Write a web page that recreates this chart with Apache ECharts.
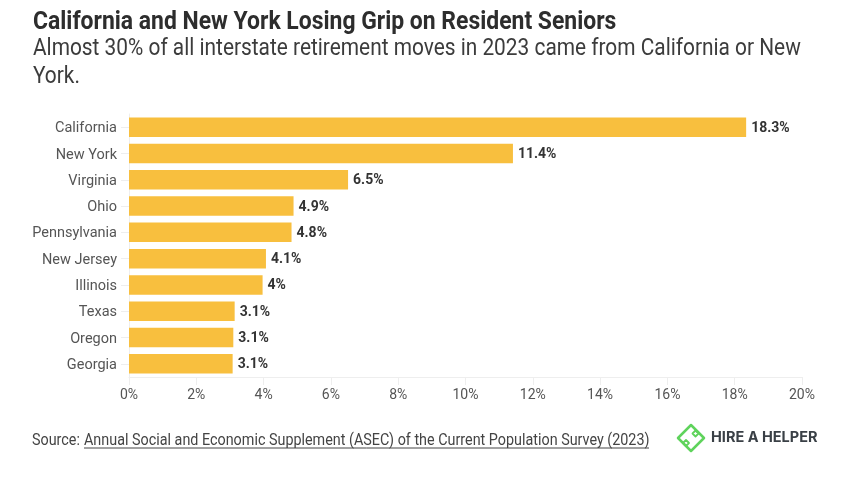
<!DOCTYPE html>
<html><head><meta charset="utf-8">
<style>html,body{margin:0;padding:0;background:#fff}#c{width:848px;height:477px}</style>
<script src="https://cdn.jsdelivr.net/npm/echarts@6/dist/echarts.min.js"></script>
</head><body><div id="c"></div>
<script>
const categories = ["California","New York","Virginia","Ohio","Pennsylvania","New Jersey","Illinois","Texas","Oregon","Georgia"];
const values = [18.34,11.41,6.51,4.89,4.83,4.07,3.97,3.14,3.1,3.08];
const titleText = "California and New York Losing Grip on Resident Seniors";
const subLine1 = "Almost 30% of all interstate retirement moves in 2023 came from California or New";
const subLine2 = "York.";
const sourcePrefix = "Source:";
const sourceLink = "Annual Social and Economic Supplement (ASEC) of the Current Population Survey (2023)";
const logoText = "HIRE A HELPER";
const FONT = 'Roboto,sans-serif';
const GREEN = '#5fd35c';
const chart = echarts.init(document.getElementById('c'),null,{renderer:'canvas'});
function txt(x,y,t,size,weight,color,sx,font){return {type:'text',x,y,scaleX:sx||1,style:{text:t,font:(weight||'normal')+' '+size+'px '+(font||'Roboto'),fill:color,verticalAlign:'middle'}};}
function diamond(cx,cy,r,w){return {type:'polygon',shape:{points:[[cx,cy-r],[cx+r,cy],[cx,cy+r],[cx-r,cy]]},style:{fill:'none',stroke:GREEN,lineWidth:w,lineJoin:'round'}};}
chart.setOption({
 animation:false,backgroundColor:'#fff',
 grid:{left:129,right:46,top:114,bottom:100},
 xAxis:{type:'value',min:0,max:20,interval:2,
  axisLabel:{formatter:'{value}%',fontFamily:FONT,fontSize:14,color:'#555',margin:11},
  axisLine:{show:true,lineStyle:{color:'#eeeeee'}},axisTick:{show:true,length:8,lineStyle:{color:'#eeeeee'}},
  splitLine:{show:false}},
 yAxis:{type:'category',inverse:true,data:categories,
  axisLabel:{margin:12,formatter:'{n|{value}}',rich:{n:{fontFamily:FONT,fontSize:14.5,color:'#555',padding:[3,0,0,0]}}},
  axisLine:{show:true,lineStyle:{color:'#eeeeee'}},axisTick:{show:true,length:8,alignWithLabel:true,lineStyle:{color:'#eeeeee'}}},
 series:[{type:'bar',data:values,barWidth:'74%',itemStyle:{color:'#f8bf3e'},
  label:{show:true,position:'right',distance:5,offset:[0,1],formatter:p=>(+p.value.toFixed(1))+'%',fontFamily:FONT,fontWeight:'bold',fontSize:14,color:'#333'}}],
 graphic:[
  txt(33,22,titleText,26.5,'bold','#2d2d2d',0.865),
  txt(33,49,subLine1,24,'normal','#3c3c3c',0.869),
  txt(33,77,subLine2,24,'normal','#3c3c3c',0.869),
  txt(32,441,sourcePrefix,16.5,'normal','#444',0.87),
  txt(84,441,sourceLink,16.5,'normal','#444',0.87),
  {type:'line',shape:{x1:84,y1:448,x2:649,y2:448},style:{stroke:'#444',lineWidth:1}},
  diamond(691,438,13,2.5),
  diamond(695.5,433.5,3,1.8),
  diamond(686,443,3,1.8),
  txt(711,438,logoText,14.5,'bold','#3a4046',1,'Inter')
 ]
});
</script></body></html>
